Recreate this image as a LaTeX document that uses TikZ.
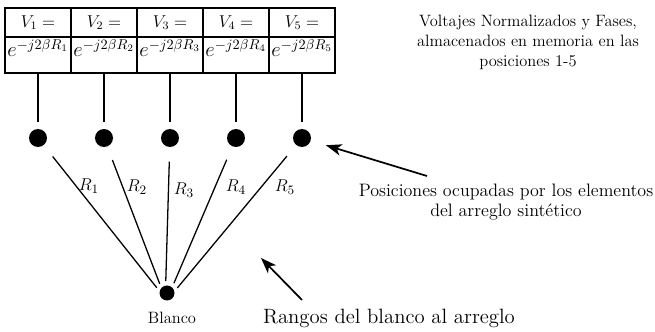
\documentclass[tikz,border=0pt]{standalone}
\usepackage{tikz}
\usetikzlibrary{arrows.meta}

\tikzset{
  cell/.style={draw, line width=0.8pt, minimum width=46.2pt, minimum height=20.3pt, inner sep=0pt, font=\large},
  lowcell/.style={draw, line width=0.8pt, minimum width=46.2pt, minimum height=25.2pt, inner sep=0pt,
    text height=14pt, text depth=11.2pt, font=\Large},
  elem/.style={circle, fill=black, minimum size=12.6pt, inner sep=0pt},
  target/.style={circle, fill=black, minimum size=10.5pt, inner sep=0pt},
  note/.style={align=center, font=\fontsize{11.5}{14}\selectfont},
  rlabel/.style={font=\fontsize{13}{15}\selectfont},
  wire/.style={line width=0.9pt},
  ray/.style={line width=0.9pt, shorten <=10pt, shorten >=3pt},
  pointer/.style={line width=1.2pt, -{Stealth[length=11pt, width=8pt, inset=3pt]}}
}

\begin{document}
\begin{tikzpicture}[x=0.7pt, y=-0.7pt]
 \useasboundingbox (0,0) rectangle (655,332);

 % tabla de memoria
 \node[cell] (V1) at (38,22.5) {$V_1 =$};
 \node[cell] (V2) at (104,22.5) {$V_2 =$};
 \node[cell] (V3) at (170,22.5) {$V_3 =$};
 \node[cell] (V4) at (236,22.5) {$V_4 =$};
 \node[cell] (V5) at (302,22.5) {$V_5 =$};
 \node[lowcell] (E1) at (38,55) {$e^{-j2\beta R_1}$};
 \node[lowcell] (E2) at (104,55) {$e^{-j2\beta R_2}$};
 \node[lowcell] (E3) at (170,55) {$e^{-j2\beta R_3}$};
 \node[lowcell] (E4) at (236,55) {$e^{-j2\beta R_4}$};
 \node[lowcell] (E5) at (302,55) {$e^{-j2\beta R_5}$};

 % elementos y blanco
 \node[elem] (D1) at (38,138) {};
 \node[elem] (D2) at (104,138) {};
 \node[elem] (D3) at (170,138) {};
 \node[elem] (D4) at (236,138) {};
 \node[elem] (D5) at (302,138) {};
 \node[target] (B) at (167,293) {};

 \path[wire] (E1.south) edge[shorten >=5pt] (D1) (E2.south) edge[shorten >=5pt] (D2)
   (E3.south) edge[shorten >=5pt] (D3) (E4.south) edge[shorten >=5pt] (D4)
   (E5.south) edge[shorten >=5pt] (D5);
 \draw[ray] (D1) -- (B.166);
 \draw[ray] (D2) -- (B.138);
 \draw[ray] (D3) -- (B.100);
 \draw[ray] (D4) -- (B.48);
 \draw[ray] (D5) -- (B.13);

 \node[rlabel] (R1) at (89,186) {$R_1$};
 \node[rlabel] (R2) at (137,187) {$R_2$};
 \node[rlabel] (R3) at (184,190) {$R_3$};
 \node[rlabel] (R4) at (236,187) {$R_4$};
 \node[rlabel] (R5) at (285,187) {$R_5$};

 % textos
 \node[note] (M) at (528,42) {Voltajes Normalizados y Fases,\\almacenados en memoria en las\\posiciones 1-5};
 \node[note, font=\fontsize{12.6}{13.5}\selectfont] (P) at (506,202) {Posiciones ocupadas por los elementos\\del arreglo sintético};
 \node[note] (Bl) at (172,318) {Blanco};
 \node[note, font=\fontsize{14.5}{16}\selectfont] (Rg) at (389,318) {Rangos del blanco al arreglo};

 \coordinate (P0) at (427,176);
 \coordinate (G0) at (302,300);
 \coordinate (G1) at (261,258);
 \draw[pointer, shorten >=11pt] (P0) -- (D5);
 \draw[pointer] (G0) -- (G1);
\end{tikzpicture}
\end{document}
